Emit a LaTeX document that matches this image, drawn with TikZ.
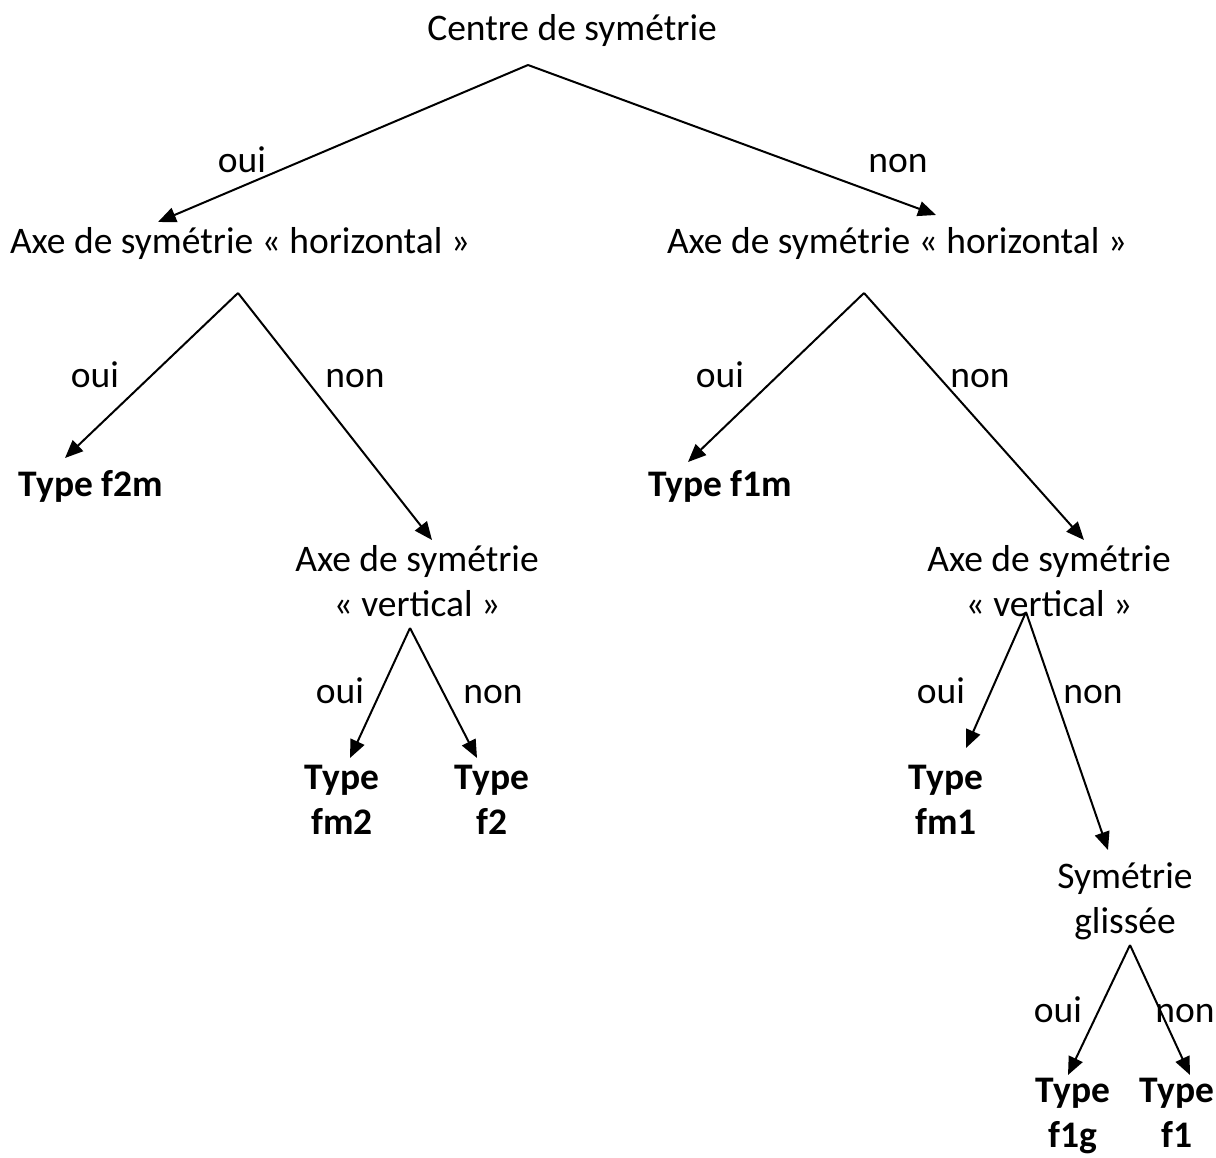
\documentclass[tikz,border=0pt]{standalone}
\usepackage{fontspec}
\setmainfont{Carlito}
\usetikzlibrary{arrows.meta}
\begin{document}
\begin{tikzpicture}[x=1pt,y=-1pt,
  txt/.style={font=\fontsize{37.5}{45}\selectfont, inner sep=0pt, anchor=base, align=center},
  res/.style={txt, font=\fontsize{37.5}{45}\selectfont\bfseries},
  lab/.style={font=\fontsize{37.5}{45}\selectfont, inner sep=0pt, anchor=base},
  arr/.style={line width=2pt, -{Triangle[length=18pt,width=15pt]}}]
\useasboundingbox (0,0) rectangle (1216,1158);
% nodes
\node[txt] (root) at (572,41) {Centre de symétrie};
\node[txt] (h1) at (240,254) {Axe de symétrie « horizontal »};
\node[txt] (h2) at (897,254) {Axe de symétrie « horizontal »};
\node[res] (f2m) at (91,496) {Type f2m};
\node[res] (f1m) at (720,496) {Type f1m};
\node[txt] (v1) at (417,616) {Axe de symétrie\\« vertical »};
\node[txt] (v2) at (1049,616) {Axe de symétrie\\« vertical »};
\node[res] (fm2) at (342,834) {Type\\fm2};
\node[res] (f2) at (492,834) {Type\\f2};
\node[res] (fm1) at (946,834) {Type\\fm1};
\node[txt] (g) at (1125,933) {Symétrie\\glissée};
\node[res] (f1g) at (1073,1147) {Type\\f1g};
\node[res] (f1) at (1177,1147) {Type\\f1};
% connector endpoints
\coordinate (a0) at (528,65);
\coordinate (t1) at (158,222);
\coordinate (t2) at (936,215);
\coordinate (a1) at (238,293);
\coordinate (t3) at (65,458);
\coordinate (t4) at (432,540);
\coordinate (a2) at (864,293);
\coordinate (t5) at (688,462);
\coordinate (t6) at (1084,540);
\coordinate (a3) at (410,628);
\coordinate (t7) at (350,758);
\coordinate (t8) at (477,758);
\coordinate (a4) at (1026,612);
\coordinate (t9) at (966,748);
\coordinate (t10) at (1108,850);
\coordinate (a5) at (1130,945);
\coordinate (t11) at (1068,1075);
\coordinate (t12) at (1190,1075);
% connectors
\draw[arr] (a0) -- (t1);
\draw[arr] (a0) -- (t2);
\draw[arr] (a1) -- (t3);
\draw[arr] (a1) -- (t4);
\draw[arr] (a2) -- (t5);
\draw[arr] (a2) -- (t6);
\draw[arr] (a3) -- (t7);
\draw[arr] (a3) -- (t8);
\draw[arr] (a4) -- (t9);
\draw[arr] (a4) -- (t10);
\draw[arr] (a5) -- (t11);
\draw[arr] (a5) -- (t12);
% labels
\node[lab] (l1) at (242,173) {oui};
\node[lab] (l2) at (898,173) {non};
\node[lab] (l3) at (95,388) {oui};
\node[lab] (l4) at (355,388) {non};
\node[lab] (l5) at (720,388) {oui};
\node[lab] (l6) at (980,388) {non};
\node[lab] (l7) at (340,703) {oui};
\node[lab] (l8) at (493,703) {non};
\node[lab] (l9) at (941,703) {oui};
\node[lab] (l10) at (1093,703) {non};
\node[lab] (l11) at (1058,1022) {oui};
\node[lab] (l12) at (1185,1022) {non};
\end{tikzpicture}
\end{document}
